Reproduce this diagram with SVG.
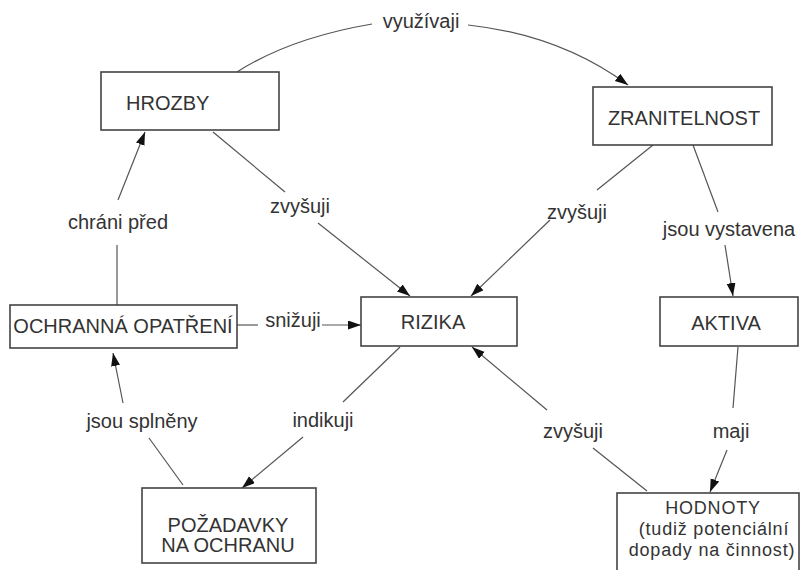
<svg xmlns="http://www.w3.org/2000/svg" width="800" height="570" viewBox="0 0 800 570">
<defs>
<style>
.box{fill:#fff;stroke:#444;stroke-width:1.6}
.t{font-family:"Liberation Sans",Arial,sans-serif;font-size:20px;fill:#333}
.m{text-anchor:middle}
.s{font-size:18px;letter-spacing:0.8px}
.c{fill:none;stroke:#555;stroke-width:1.2}
</style>
<marker id="ah" markerUnits="userSpaceOnUse" markerWidth="14" markerHeight="10" refX="13" refY="4.5" orient="auto">
<path d="M0,0 L13,4.5 L0,9 z" fill="#111"/>
</marker>
</defs>
<rect width="800" height="570" fill="#fff"/>
<g id="connectors">
<path class="c" d="M237,72 Q290,38 372,24"/>
<path class="c" d="M468,25 Q560,35 628,85" marker-end="url(#ah)"/>
<text class="t m" x="421" y="28">využívaji</text>

<path class="c" d="M117,305 L117,245"/>
<path class="c" d="M118,200 L145,132" marker-end="url(#ah)"/>
<text class="t m" x="118" y="229">chráni před</text>

<path class="c" d="M213,132 L285,192"/>
<path class="c" d="M318,223 L410,296" marker-end="url(#ah)"/>
<text class="t m" x="300" y="213">zvyšuji</text>

<path class="c" d="M653,145 L597,190"/>
<path class="c" d="M550,220 L471,296" marker-end="url(#ah)"/>
<text class="t m" x="577" y="219">zvyšuji</text>

<path class="c" d="M693,145 L718,212"/>
<path class="c" d="M725,245 L733,296" marker-end="url(#ah)"/>
<text class="t m" x="729" y="236">jsou vystavena</text>

<path class="c" d="M738,347 L733,408"/>
<path class="c" d="M727,450 L710,492" marker-end="url(#ah)"/>
<text class="t m" x="731" y="438">maji</text>

<path class="c" d="M647,491 L593,448"/>
<path class="c" d="M547,410 L472,347" marker-end="url(#ah)"/>
<text class="t m" x="573" y="438">zvyšuji</text>

<path class="c" d="M400,347 L343,402"/>
<path class="c" d="M303,437 L242,488" marker-end="url(#ah)"/>
<text class="t m" x="323" y="427">indikuji</text>

<path class="c" d="M183,485 L149,438"/>
<path class="c" d="M123,403 L113,353" marker-end="url(#ah)"/>
<text class="t m" x="142" y="428">jsou splněny</text>

<path class="c" d="M237,325 L258,325"/>
<path class="c" d="M322,325 L361,325" marker-end="url(#ah)"/>
<text class="t m" x="293" y="327">snižuji</text>
</g>
<g id="hrozby">
<rect class="box" x="101" y="72" width="178" height="58"/>
<text class="t" x="126" y="110">HROZBY</text>
</g>
<g id="zranitelnost">
<rect class="box" x="593" y="87" width="179" height="58"/>
<text class="t m" x="684" y="125">ZRANITELNOST</text>
</g>
<g id="rizika">
<rect class="box" x="361" y="297" width="156" height="49"/>
<text class="t m" x="433" y="329">RIZIKA</text>
</g>
<g id="ochranna-opatreni">
<rect class="box" x="10" y="305" width="227" height="43"/>
<text class="t m" x="123" y="333">OCHRANNÁ OPATŘENÍ</text>
</g>
<g id="aktiva">
<rect class="box" x="660" y="297" width="138" height="49"/>
<text class="t m" x="726" y="330">AKTIVA</text>
</g>
<g id="hodnoty">
<rect class="box" x="617" y="493" width="182" height="85"/>
<text class="t m s" x="713" y="514">HODNOTY</text>
<text class="t m s" x="714" y="535">(tudiž potenciální</text>
<text class="t m s" x="712" y="556">dopady na činnost)</text>
</g>
<g id="pozadavky">
<rect class="box" x="142" y="488" width="174" height="75"/>
<text class="t m" x="228" y="532">POŽADAVKY</text>
<text class="t m" x="228" y="552">NA OCHRANU</text>
</g>
</svg>
